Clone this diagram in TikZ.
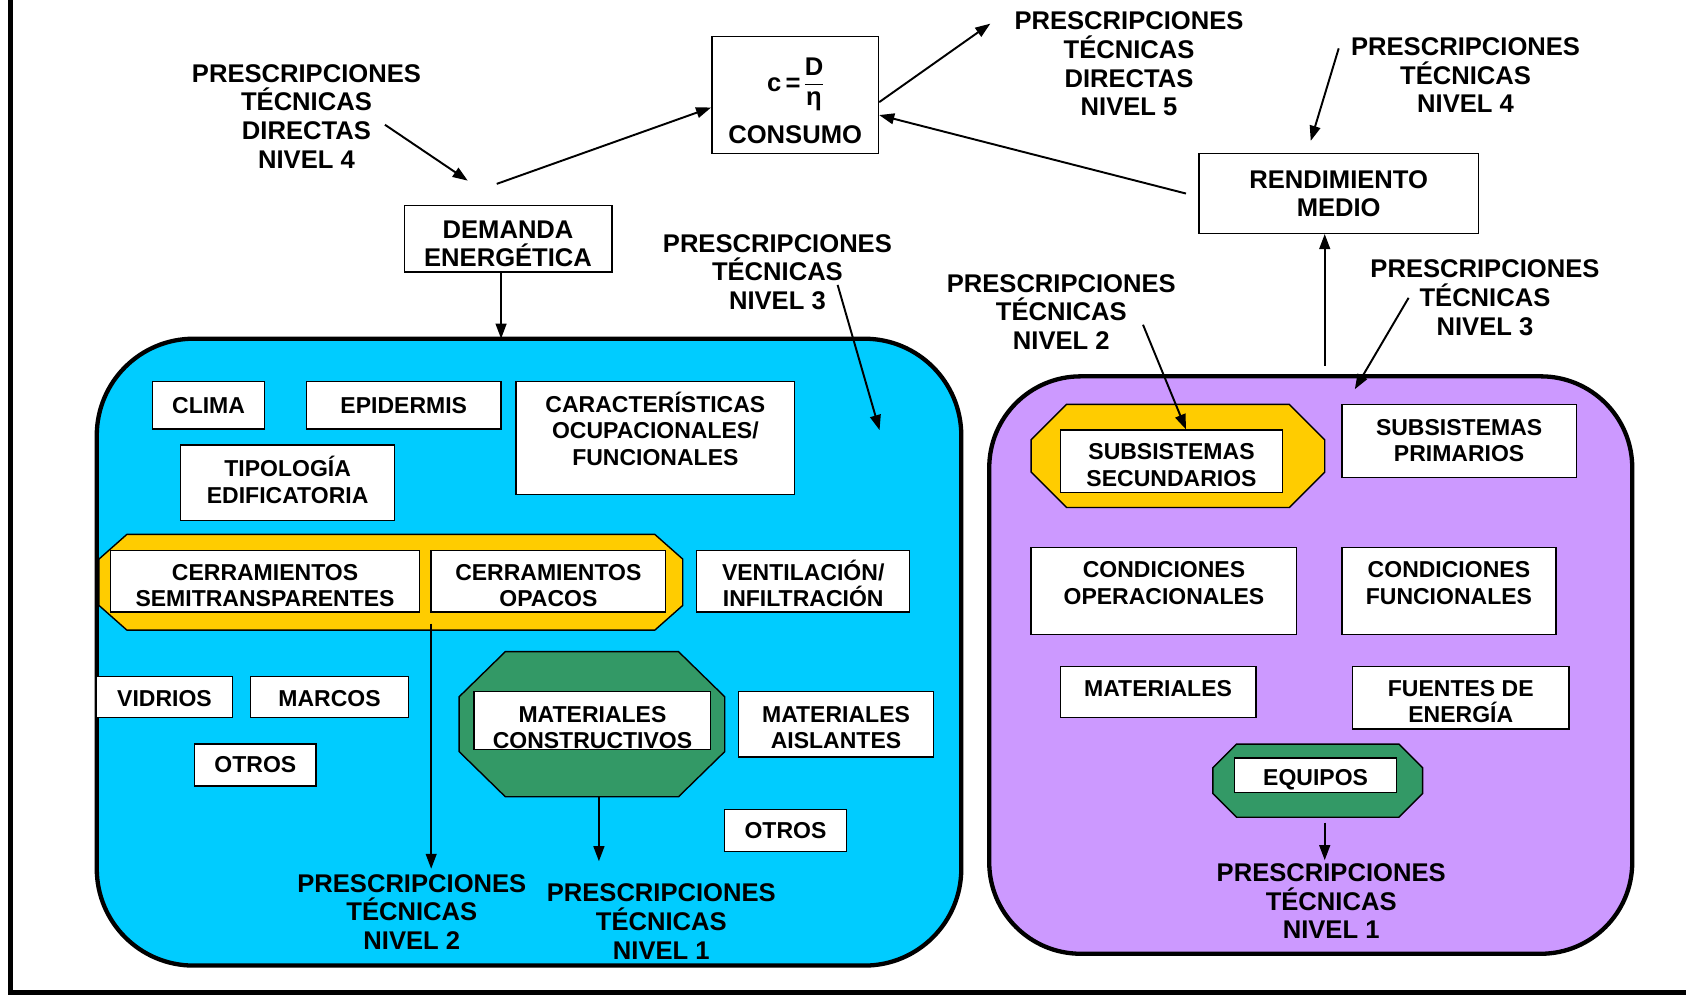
\documentclass[tikz,border=0pt]{standalone}
\usepackage{fontspec}
\setmainfont{Liberation Sans}
\usetikzlibrary{arrows.meta,calc}
\definecolor{cblue}{RGB}{0,204,255}
\definecolor{cpurple}{RGB}{204,153,255}
\definecolor{cyellow}{RGB}{255,204,0}
\definecolor{cgreen}{RGB}{51,153,102}
\newcommand\labfont{\fontsize{23.8}{26.7}\selectfont\bfseries}
\newcommand\boxfont{\fontsize{21.4}{24.5}\selectfont\bfseries}
\newcommand\tup[1]{\rule[-#1]{0pt}{0pt}}
\newcommand\tdn[1]{\rule{0pt}{#1}}
\begin{document}
\begin{tikzpicture}[x=1pt,y=-1pt,
  box/.style={draw, line width=1.3pt, fill=white, align=center, inner sep=0pt, font=\boxfont},
  tbox/.style={box, font=\labfont},
  lab/.style={align=center, inner sep=0pt, font=\labfont},
  arr/.style={-{Triangle[length=14pt,width=10pt]}, line width=1.8pt},
  cont/.style={draw, line width=4pt},
  octa/.style={draw, line width=1.3pt}]
\useasboundingbox (0,0) rectangle (1568,926);
% frame
\draw[line width=5pt] (10,0) -- (10,923) -- (1568,923);
% containers
\draw[cont, fill=cblue, rounded corners=90pt] (90,315) rectangle (894,898);
\draw[cont, fill=cpurple, rounded corners=85pt] (920,350) rectangle (1518,887);
% octagons
\filldraw[octa, fill=cyellow] (118,497) -- (609,497) -- (635,520) -- (635,563) -- (609,586) -- (118,586) -- (92,563) -- (92,520) -- cycle;
\filldraw[octa, fill=cgreen] (470,606) -- (631,606) -- (674,648) -- (674,699) -- (631,741) -- (470,741) -- (427,699) -- (427,648) -- cycle;
\filldraw[octa, fill=cyellow] (992,376) -- (1199,376) -- (1232,409) -- (1232,439) -- (1199,472) -- (992,472) -- (959,439) -- (959,409) -- cycle;
\filldraw[octa, fill=cgreen] (1150,692) -- (1301,692) -- (1323,714) -- (1323,738) -- (1301,760) -- (1150,760) -- (1128,738) -- (1128,714) -- cycle;
% top boxes
\node[tbox, minimum width=155pt, minimum height=109pt] (consumo) at (739.5,88.5)
  {\tdn{42pt}c\,=\,$\vcenter{\hbox{\setlength\arrayrulewidth{1.5pt}\begin{tabular}{@{}c@{}}D\\\hline η\end{tabular}}}$\\[10pt]CONSUMO};
\node[tbox, minimum width=193pt, minimum height=62pt] (demanda) at (472.5,222) {\tdn{26pt}DEMANDA\\ENERGÉTICA};
\node[tbox, minimum width=260pt, minimum height=74pt] (rend) at (1245,180) {RENDIMIENTO\\MEDIO};
% blue boxes
\node[box, minimum width=104pt, minimum height=44pt] (clima) at (194,377) {CLIMA};
\node[box, minimum width=181pt, minimum height=44pt] (epid) at (375.5,377) {EPIDERMIS};
\node[box, minimum width=259pt, minimum height=105pt] (cara) at (609.5,407.5) {CARACTERÍSTICAS\\OCUPACIONALES/\\FUNCIONALES\tup{18pt}};
\node[box, minimum width=199pt, minimum height=70pt] (tipo) at (267.5,449) {TIPOLOGÍA\\EDIFICATORIA\tup{5.6pt}};
\node[box, minimum width=287pt, minimum height=57pt] (semi) at (246.5,540.5) {\tdn{23pt}CERRAMIENTOS\\SEMITRANSPARENTES};
\node[box, minimum width=218pt, minimum height=57pt] (opacos) at (510,540.5) {\tdn{23pt}CERRAMIENTOS\\OPACOS};
\node[box, minimum width=198pt, minimum height=57pt] (venti) at (747,540.5) {\tdn{23pt}VENTILACIÓN/\\INFILTRACIÓN};
\node[box, minimum width=126pt, minimum height=38pt] (vidrios) at (153,648) {\tdn{19pt}VIDRIOS};
\node[box, minimum width=147pt, minimum height=38pt] (marcos) at (306.5,648) {\tdn{19pt}MARCOS};
\node[box, minimum width=113pt, minimum height=39pt] (otrosa) at (237.5,711.5) {OTROS};
\node[box, minimum width=220pt, minimum height=54pt] (matcons) at (551,670) {\tdn{28pt}MATERIALES\\CONSTRUCTIVOS};
\node[box, minimum width=181pt, minimum height=61pt] (mataisl) at (777.5,673.5) {\tdn{21pt}MATERIALES\\AISLANTES};
\node[box, minimum width=113pt, minimum height=39pt] (otrosb) at (730.5,772.5) {OTROS};
% purple boxes
\node[box, minimum width=207pt, minimum height=58pt] (subsec) at (1089.5,429) {\tdn{22pt}SUBSISTEMAS\\SECUNDARIOS};
\node[box, minimum width=218pt, minimum height=68pt] (subprim) at (1357,410) {SUBSISTEMAS\\PRIMARIOS};
\node[box, minimum width=247pt, minimum height=81pt] (condop) at (1082.5,549.5) {CONDICIONES\\OPERACIONALES\tup{14.4pt}};
\node[box, minimum width=199pt, minimum height=81pt] (condfun) at (1347.5,549.5) {CONDICIONES\\FUNCIONALES\tup{14.4pt}};
\node[box, minimum width=182pt, minimum height=47pt] (mater) at (1077,643.5) {MATERIALES\tup{7pt}};
\node[box, minimum width=201pt, minimum height=58pt] (fuentes) at (1358.5,649) {\tdn{22pt}FUENTES DE\\ENERGÍA};
\node[box, minimum width=151pt, minimum height=32pt] (equipos) at (1223.5,721) {\tdn{23pt}EQUIPOS};
% labels
\node[lab] (l4dir) at (285,108) {PRESCRIPCIONES\\TÉCNICAS\\DIRECTAS\\NIVEL 4};
\node[lab] (l5dir) at (1050,59.5) {PRESCRIPCIONES\\TÉCNICAS\\DIRECTAS\\NIVEL 5};
\node[lab] (l4) at (1363,70) {PRESCRIPCIONES\\TÉCNICAS\\NIVEL 4};
\node[lab] (l3r) at (1381,277) {PRESCRIPCIONES\\TÉCNICAS\\NIVEL 3};
\node[lab] (l2r) at (987,290) {PRESCRIPCIONES\\TÉCNICAS\\NIVEL 2};
\node[lab] (l3m) at (723,253) {PRESCRIPCIONES\\TÉCNICAS\\NIVEL 3};
\node[lab] (l2b) at (383,848) {PRESCRIPCIONES\\TÉCNICAS\\NIVEL 2};
\node[lab] (l1b) at (615,857) {PRESCRIPCIONES\\TÉCNICAS\\NIVEL 1};
\node[lab] (l1p) at (1238,838) {PRESCRIPCIONES\\TÉCNICAS\\NIVEL 1};
% coordinates
\coordinate (a1s) at (358,116);
\coordinate (a1e) at (435,168);
\coordinate (a2s) at (462,171);
\coordinate (a3e) at (921,22);
\coordinate (a4s) at (1103,180);
\coordinate (a5s) at (1245,45);
\coordinate (a5e) at (1219,131);
\coordinate (a6s) at (1232,340);
\coordinate (a7s) at (1310,277);
\coordinate (a7e) at (1260,362);
\coordinate (a8s) at (1063,302);
\coordinate (a9s) at (779,265);
\coordinate (a9e) at (818,400);
\coordinate (bluetop) at (466,315);
\coordinate (a11s) at (401,580);
\coordinate (a11e) at (401,808);
\coordinate (a12s) at (557,741);
\coordinate (a12e) at (557,801);
\coordinate (a13s) at (1232,765);
\coordinate (a13e) at (1232,800);
% arrows
\draw[arr] (a1s) -- (a1e);
\draw[arr] (a2s) -- ($(consumo.west)+(0,11.5)$);
\draw[arr] ($(consumo.east)+(0,6.5)$) -- (a3e);
\draw[arr] (a4s) -- ($(consumo.east)+(0,18.5)$);
\draw[arr] (a5s) -- (a5e);
\draw[arr] (a6s) -- (a6s |- rend.south);
\draw[arr] (a7s) -- (a7e);
\draw[arr] (a8s) -- ($(subsec.north)+(13.5,0)$);
\draw[arr] (a9s) -- (a9e);
\draw[arr] (demanda.south -| bluetop) -- (bluetop);
\draw[arr] (a11s) -- (a11e);
\draw[arr] (a12s) -- (a12e);
\draw[arr] (a13s) -- (a13e);
\end{tikzpicture}
\end{document}
